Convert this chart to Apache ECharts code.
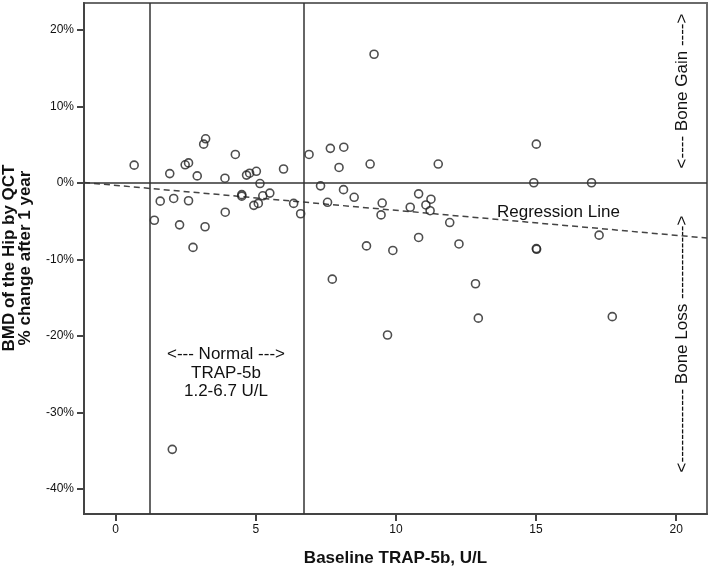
<!DOCTYPE html>
<html><head><meta charset="utf-8">
<script src="https://cdn.jsdelivr.net/npm/echarts@6/dist/echarts.min.js"></script>
<style>html,body{margin:0;padding:0;background:#fff}#c{width:711px;height:568px}</style>
</head><body><div id="c"></div>
<script>
// Baseline TRAP-5b (U/L)
const trapX = [0.66,1.93,2.48,2.60,3.21,3.14,2.91,4.27,3.90,4.67,4.78,5.02,5.15,5.25,4.50,4.50,
  1.59,2.07,2.60,1.38,2.28,3.19,2.76,3.91,4.93,5.09,5.50,5.99,6.35,6.60,6.90,7.31,7.66,8.14,
  7.97,8.13,7.56,8.51,9.08,9.51,9.47,8.95,9.89,7.73,9.70,10.81,11.25,11.07,11.22,10.51,10.81,
  11.51,11.92,12.25,12.84,12.94,15.01,14.92,15.01,15.02,16.98,17.25,17.72,2.02,9.22];
// BMD of the hip, % change after 1 year
const bmdY = [2.3,1.2,2.35,2.6,5.75,5.05,0.9,3.7,0.6,1.0,1.25,1.5,-0.1,-1.7,-1.55,-1.75,
  -2.4,-2.05,-2.35,-4.9,-5.5,-5.75,-8.45,-3.85,-2.95,-2.7,-1.35,1.8,-2.7,-4.05,3.7,-0.4,4.5,4.65,
  2.0,-0.9,-2.55,-1.9,2.45,-2.65,-4.2,-8.25,-8.85,-12.6,-19.9,-1.45,-2.15,-2.9,-3.65,-3.2,-7.15,
  2.45,-5.2,-8.0,-13.2,-17.7,5.05,0.0,-8.6,-8.7,0.0,-6.85,-17.5,-34.85,16.8];
// Regression line end points
const regX = [-1.13, 21.1];
const regY = [0.03, -7.23];
// Normal TRAP-5b range
const normalRange = [1.2, 6.7];
const xTicks = [0, 5, 10, 15, 20];
const yTicks = [-40, -30, -20, -10, 0, 10, 20];

const FONT = '"Liberation Sans", Arial, sans-serif';
const chart = echarts.init(document.getElementById('c'), null, {renderer: 'canvas'});
const pts = trapX.map((x, i) => [x, bmdY[i]]);
const reg = regX.map((x, i) => [x, regY[i]]);

chart.setOption({
  animation: false,
  backgroundColor: '#fff',
  grid: {left: 84, right: 4, top: 3, bottom: 54, show: true, borderColor: '#6a6a6a', borderWidth: 2},
  xAxis: {
    type: 'value', min: -1.13, max: 21.1,
    axisLine: {show: true, onZero: false, lineStyle: {color: '#444', width: 2}},
    axisTick: {show: true, length: 7, lineStyle: {color: '#444', width: 2}, customValues: xTicks},
    axisLabel: {customValues: xTicks, margin: 10, fontSize: 12, color: '#111', fontFamily: FONT},
    splitLine: {show: false}
  },
  yAxis: {
    type: 'value', min: -43.3, max: 23.5,
    axisLine: {show: true, onZero: false, lineStyle: {color: '#444', width: 2}},
    axisTick: {show: true, length: 7, lineStyle: {color: '#444', width: 2}, customValues: yTicks},
    axisLabel: {customValues: yTicks, margin: 10, fontSize: 12, color: '#111', fontFamily: FONT,
      formatter: v => v + '%'},
    splitLine: {show: false}
  },
  series: [
    {
      type: 'line', data: reg, symbol: 'none', silent: true, z: 1,
      lineStyle: {color: '#444', width: 1.5, type: [6, 4]}
    },
    {
      type: 'scatter', data: pts, symbol: 'circle', symbolSize: 8, z: 3,
      itemStyle: {color: 'rgba(0,0,0,0)', borderColor: '#222', borderWidth: 1.6},
      markLine: {
        silent: true, symbol: ['none', 'none'], label: {show: false},
        lineStyle: {color: '#333', width: 1.5, type: 'solid'},
        data: [{xAxis: normalRange[0]}, {xAxis: normalRange[1]}, {yAxis: 0}]
      }
    }
  ],
  graphic: [
    {type: 'text', x: 17.5, y: 258, rotation: Math.PI / 2, style: {
      text: 'BMD of the Hip by QCT\n% change after 1 year', font: 'bold 17px ' + FONT,
      fill: '#111', align: 'center', verticalAlign: 'middle', lineHeight: 16}},
    {type: 'text', x: 395.5, y: 558, style: {
      text: 'Baseline TRAP-5b, U/L', font: 'bold 17px ' + FONT,
      fill: '#111', align: 'center', verticalAlign: 'middle'}},
    {type: 'text', x: 226, y: 373, style: {
      text: '<--- Normal --->\nTRAP-5b\n1.2-6.7 U/L', font: '17px ' + FONT,
      fill: '#111', align: 'center', verticalAlign: 'middle', lineHeight: 18.5}},
    {type: 'text', x: 497, y: 212, style: {
      text: 'Regression Line', font: '17px ' + FONT,
      fill: '#111', align: 'left', verticalAlign: 'middle'}},
    {type: 'text', x: 682, y: 91, rotation: Math.PI / 2, style: {
      text: '<---- Bone Gain ---->', font: '17px ' + FONT,
      fill: '#111', align: 'center', verticalAlign: 'middle'}},
    {type: 'text', x: 682, y: 344, rotation: Math.PI / 2, style: {
      text: '<------------- Bone Loss ------------->', font: '17px ' + FONT,
      fill: '#111', align: 'center', verticalAlign: 'middle'}}
  ]
});
</script></body></html>
